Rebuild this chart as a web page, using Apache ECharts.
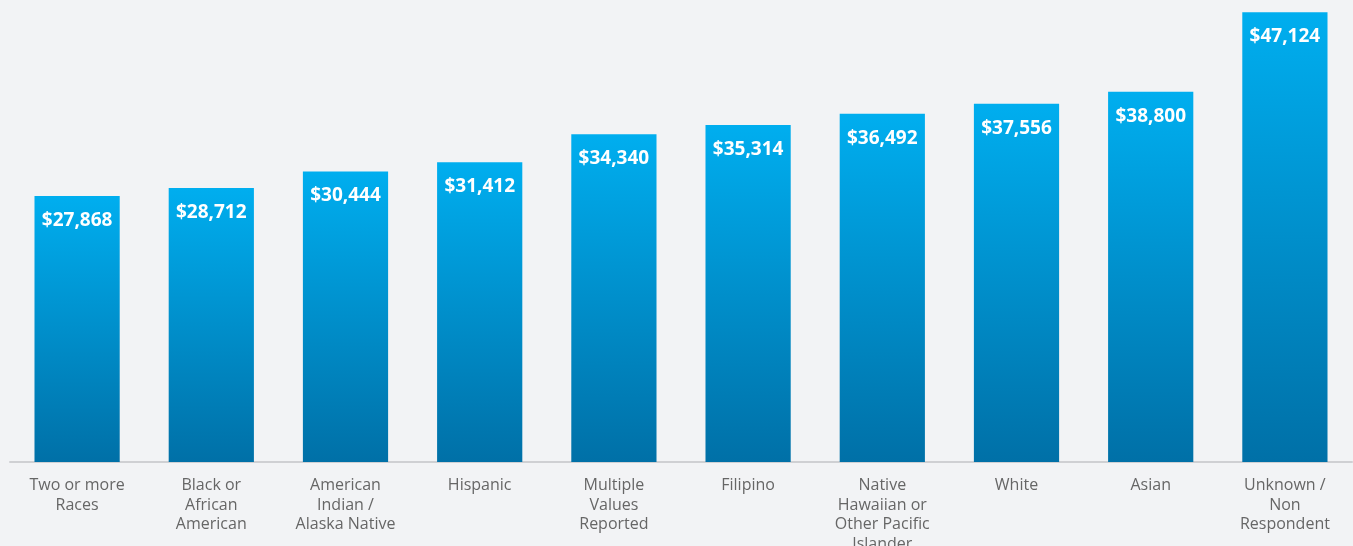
<!DOCTYPE html>
<html>
<head>
<meta charset="utf-8">
<script src="https://cdn.jsdelivr.net/npm/echarts@6/dist/echarts.min.js"></script>
<style>
  html, body { margin: 0; padding: 0; background: #f2f3f5; }
  #chart { width: 1353px; height: 546px; }
</style>
</head>
<body>
<div id="chart"></div>
<script>
// Median earnings by race / ethnicity
const categories = [
  'Two or more\nRaces',
  'Black or\nAfrican\nAmerican',
  'American\nIndian /\nAlaska Native',
  'Hispanic',
  'Multiple\nValues\nReported',
  'Filipino',
  'Native\nHawaiian or\nOther Pacific\nIslander',
  'White',
  'Asian',
  'Unknown /\nNon\nRespondent'
];
const earnings = [27868, 28712, 30444, 31412, 34340, 35314, 36492, 37556, 38800, 47124];

const chart = echarts.init(document.getElementById('chart'), null, { renderer: 'canvas' });

const fmt = v => '$' + v.toLocaleString('en-US');

chart.setOption({
  backgroundColor: '#f2f3f5',
  animation: false,
  grid: {
    left: 10, right: 1, top: 4, bottom: 84,
    containLabel: false,
    outerBoundsMode: 'none'
  },
  xAxis: {
    type: 'category',
    data: categories,
    axisLine: { show: true, lineStyle: { color: '#cfd0d3', width: 2 } },
    axisTick: { show: false },
    axisLabel: {
      interval: 0,
      margin: 14,
      color: '#666666',
      fontFamily: 'Open Sans',
      fontSize: 16,
      lineHeight: 19.5
    }
  },
  yAxis: {
    type: 'value',
    min: 0,
    max: 48000,
    show: false,
    splitLine: { show: false }
  },
  series: [{
    type: 'bar',
    data: earnings,
    barWidth: '63.5%',
    itemStyle: {
      color: new echarts.graphic.LinearGradient(0, 0, 0, 1, [
        { offset: 0, color: '#00aeef' },
        { offset: 1, color: '#0070a7' }
      ])
    },
    label: {
      show: true,
      position: 'insideTop',
      distance: 15,
      color: '#ffffff',
      fontFamily: 'Open Sans',
      fontWeight: 'bold',
      fontSize: 19,
      formatter: p => fmt(p.value)
    }
  }]
});
</script>
</body>
</html>
